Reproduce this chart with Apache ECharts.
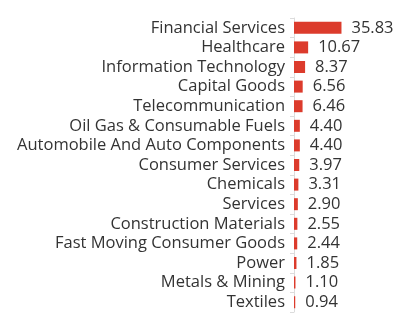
<!DOCTYPE html>
<html><head><meta charset="utf-8">
<script src="https://cdn.jsdelivr.net/npm/echarts@6/dist/echarts.min.js"></script>
<style>html,body{margin:0;padding:0;background:#fff}#c{width:415px;height:324px}</style>
</head><body><div id="c"></div>
<script>
const categories = ["Financial Services","Healthcare","Information Technology","Capital Goods","Telecommunication","Oil Gas & Consumable Fuels","Automobile And Auto Components","Consumer Services","Chemicals","Services","Construction Materials","Fast Moving Consumer Goods","Power","Metals & Mining","Textiles"];
const values = [35.83,10.67,8.37,6.56,6.46,4.40,4.40,3.97,3.31,2.90,2.55,2.44,1.85,1.10,0.94];

const chart = echarts.init(document.getElementById('c'));
chart.setOption({
  animation:false,
  grid:{left:294,right:15,top:18,bottom:12,containLabel:false},
  xAxis:{type:'value',min:0,max:80,show:false},
  yAxis:{type:'category',inverse:true,data:categories,
    axisLine:{show:true,lineStyle:{color:'#dcdcdc'}},
    axisTick:{show:true,length:4,lineStyle:{color:'#dcdcdc'}},
    axisLabel:{color:'#333',fontFamily:'Open Sans',fontSize:16.5,margin:9,interval:0}},
  series:[{type:'bar',data:values,barWidth:12,
    itemStyle:{color:'#dc3b2c'},
    label:{show:true,position:'right',distance:10,color:'#333',fontFamily:'Open Sans',fontSize:16.5,
      formatter:p=>p.value.toFixed(2)}}]
});
</script></body></html>
